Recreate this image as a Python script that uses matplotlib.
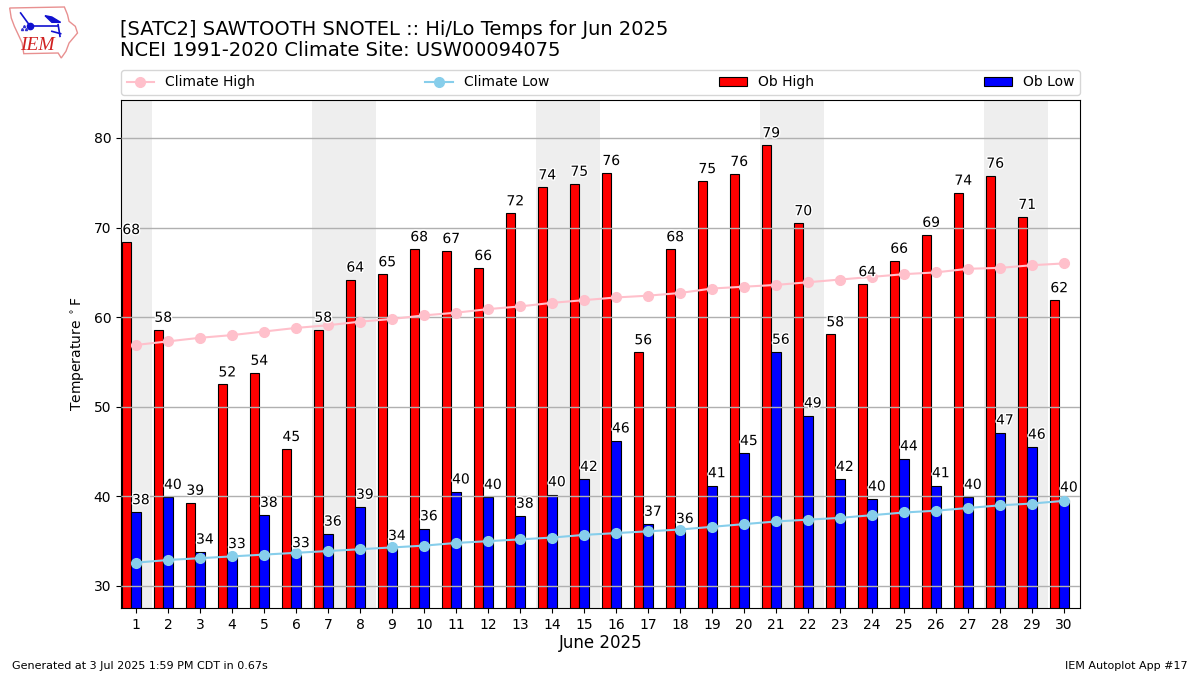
import matplotlib
matplotlib.use("Agg")
import matplotlib.pyplot as plt
import matplotlib.patheffects as pe
import numpy as np

days = list(range(1, 31))
weekend_days = [1, 7, 8, 14, 15, 21, 22, 28, 29]
ob_high = [68.4, 58.6, 39.3, 52.5, 53.8, 45.3, 58.6, 64.2, 64.8, 67.6, 67.4, 65.5, 71.6, 74.5, 74.9,
           76.1, 56.1, 67.6, 75.2, 76.0, 79.2, 70.5, 58.1, 63.7, 66.3, 69.2, 73.9, 75.8, 71.2, 61.9]
ob_low = [38.2, 39.9, 33.8, 33.3, 37.9, 33.4, 35.8, 38.8, 34.2, 36.4, 40.5, 39.9, 37.8, 40.2, 41.9,
          46.2, 36.9, 36.1, 41.2, 44.8, 56.1, 49.0, 41.9, 39.7, 44.2, 41.2, 39.9, 47.1, 45.5, 39.6]
high_labels = [68, 58, 39, 52, 54, 45, 58, 64, 65, 68, 67, 66, 72, 74, 75,
               76, 56, 68, 75, 76, 79, 70, 58, 64, 66, 69, 74, 76, 71, 62]
low_labels = [38, 40, 34, 33, 38, 33, 36, 39, 34, 36, 40, 40, 38, 40, 42,
              46, 37, 36, 41, 45, 56, 49, 42, 40, 44, 41, 40, 47, 46, 40]
climate_high = [56.9, 57.3, 57.7, 58.0, 58.4, 58.8, 59.1, 59.5, 59.8, 60.2, 60.5, 60.9, 61.2, 61.6, 61.9,
                62.2, 62.4, 62.7, 63.2, 63.4, 63.6, 63.9, 64.2, 64.5, 64.8, 65.0, 65.4, 65.5, 65.8, 66.0]
climate_low = [32.6, 32.9, 33.1, 33.3, 33.5, 33.7, 33.9, 34.1, 34.3, 34.5, 34.8, 35.0, 35.2, 35.4, 35.7,
               35.9, 36.1, 36.3, 36.6, 36.9, 37.2, 37.4, 37.6, 37.9, 38.2, 38.4, 38.7, 39.0, 39.2, 39.5]

# hand traced IEM logo, pixels of a 240x180 box
logo_outline = [(15, 15), (190, 12), (200, 35), (205, 55), (225, 70), (232, 90), (205, 120), (195, 145),
                (180, 165), (170, 150), (60, 152), (55, 120), (30, 70), (20, 45)]
logo_strokes = [[(80, 70), (170, 70)], [(50, 30), (78, 66)], [(170, 65), (176, 100)], [(150, 85), (178, 92)]]
logo_wing = [(128, 38), (150, 42), (178, 58), (150, 58)]

fig = plt.figure(figsize=(12, 6.75), dpi=100)
ax = fig.add_axes([121 / 1200, 1 - 608 / 675, 959 / 1200, 508 / 675])

x = np.array(days)
for d in weekend_days:
    ax.axvspan(d - 0.5, d + 0.5, color="#eeeeee", zorder=1, lw=0)

ax.grid(axis="y", color="#b0b0b0", lw=1, zorder=1.5)
ax.set_axisbelow(False)

ax.bar(x - 0.3, ob_high, width=0.3, color="red", edgecolor="k", lw=0.8, zorder=2, label="Ob High")
ax.bar(x, ob_low, width=0.3, color="blue", edgecolor="k", lw=0.8, zorder=2, label="Ob Low")
ax.plot(x, climate_high, color="pink", marker="o", ms=7, lw=1.5, zorder=3, label="Climate High")
ax.plot(x, climate_low, color="skyblue", marker="o", ms=7, lw=1.5, zorder=3, label="Climate Low")

halo = [pe.withStroke(linewidth=2, foreground="white")]
for d, h, l, hl, ll in zip(x, ob_high, ob_low, high_labels, low_labels):
    ax.text(d - 0.15, h + 0.55, str(hl), ha="center", va="bottom", fontsize=10, zorder=4, path_effects=halo)
    ax.text(d + 0.15, l + 0.6, str(ll), ha="center", va="bottom", fontsize=10, zorder=4, path_effects=halo)

ax.set_xlim(0.53, 30.5)
ax.set_ylim(27.54, 84.24)
ax.set_xticks(days)
ax.set_yticks(range(30, 90, 10))
ax.tick_params(labelsize=10)
ax.set_xlabel("June 2025", fontsize=12, labelpad=2)
ax.set_ylabel(r"Temperature $^\circ$F", fontsize=10, labelpad=5)

handles, labels = ax.get_legend_handles_labels()
order = [labels.index(n) for n in ["Climate High", "Climate Low", "Ob High", "Ob Low"]]
ax.legend([handles[i] for i in order], [labels[i] for i in order], ncol=4, mode="expand",
          loc="lower left", bbox_to_anchor=(0, 1.0098, 1, 0.05), borderaxespad=0, fontsize=10)

fig.text(120 / 1200, 1 - 29.5 / 675, "[SATC2] SAWTOOTH SNOTEL :: Hi/Lo Temps for Jun 2025", fontsize=14, va="center")
fig.text(120 / 1200, 1 - 50.5 / 675, "NCEI 1991-2020 Climate Site: USW00094075", fontsize=14, va="center")
fig.text(12 / 1200, 1 - 666 / 675, "Generated at 3 Jul 2025 1:59 PM CDT in 0.67s", fontsize=8, va="center")
fig.text(1188 / 1200, 1 - 666 / 675, "IEM Autoplot App #17", fontsize=8, va="center", ha="right")

logo = fig.add_axes([5 / 1200, 1 - 63 / 675, 75 / 1200, 60 / 675])
logo.axis("off")
logo.set_xlim(0, 240)
logo.set_ylim(180, 0)
logo.fill(*zip(*logo_outline), facecolor="white", edgecolor="#e89090", lw=1)
logo.text(103, 128, "IEM", color="#d02020", style="italic", family="Liberation Serif", fontsize=14,
          ha="center", va="center")
for stroke in logo_strokes:
    logo.plot(*zip(*stroke), color="#1010d0", lw=1.2)
logo.fill(*zip(*logo_wing), color="#1010d0")
logo.plot([80], [70], "o", color="#1010d0", ms=4.5)
logo.plot([55, 62, 68], [78, 70, 78], "^", color="#3030d0", ms=1.5)

fig.savefig("out.png", dpi=100)
